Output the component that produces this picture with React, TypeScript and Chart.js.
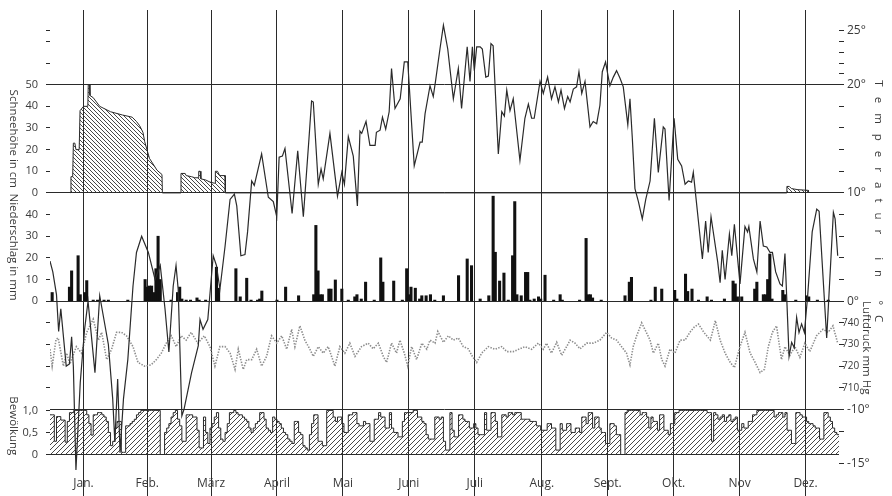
import React, { useEffect, useRef } from 'react';
import { Chart, registerables } from 'chart.js';

Chart.register(...registerables);

// ---------------- data ----------------
const MONTHS = ['Jan.', 'Feb.', 'März', 'April', 'Mai', 'Juni', 'Juli', 'Aug.', 'Sept.', 'Okt.', 'Nov', 'Dez.'];
const MONTH_START = [0, 31, 59, 90, 120, 151, 181, 212, 243, 273, 304, 334, 365];

const TEMP_TICKS = [25, 24, 23, 22, 21, 20, 18, 16, 14, 12, 10, 8, 6, 4, 2, 0, -2, -4, -6, -8, -10, -12, -15];
const TEMP_LABELS = [25, 20, 10, 0, -10, -15];
const TEMP_GRID = [20, 10, 0, -10];
const SNOW_TICKS = [0, 10, 20, 30, 40, 50, 60, 70, 75];
const SNOW_LABELS = [0, 10, 20, 30, 40, 50];
const PRECIP_TICKS = [0, 10, 20, 30, 40];
const PRESSURE_TICKS = [710, 720, 730, 740];
const CLOUD_TICKS = [0, 0.5, 1];
const CLOUD_TEXT = ['0', '0,5', '1,0'];

// axis ranges (all share the same vertical extent)
const T_RANGE = [-18, 26.9];
const SNOW_RANGE = [-140, 84.5];
const PRECIP_RANGE = [-90, 134.5];
const PRESSURE_RANGE = [660, 884.5];
const CLOUD_RANGE = [-0.941, 10.08];

// daily mean temperature (day of year, °C)
const TEMPERATURE: [number, number][] = [
  [0, 3.7], [1.3, 2.7], [3, 0.6], [4, -2.8], [5, -0.7], [7.5, -6], [9, -5.8], [10, -3.3], [10.8, -6],
  [12, -15.6], [14, -7.5], [16, -2.6], [17.6, 0], [20.8, -6.6], [23, 0.5], [27, -4], [29, -9], [30, -13],
  [31.3, -7.2], [32.4, -14], [34, -9], [36, -5.4], [38.4, 1.4], [40, 4.5], [42.4, 6.0], [45.5, 4.5],
  [48.6, 2], [51, 3.3], [53.2, -0.7], [55, -4.7], [57, 1.4], [58.3, 3.3], [59.3, 1.1], [61, -10.6],
  [62, -10], [65.5, -6.6], [68.6, -4.1], [69.4, -1.7], [70.8, -2.6], [73, -1.7], [75.5, 4.2], [77, 3.3],
  [78.6, 1.1], [81, 5.1], [83.3, 9.4], [85.3, 9.9], [86.4, 8.8], [88.3, 4.2], [90.2, 4.3], [91.4, 6.4],
  [93.3, 11.1], [94.5, 10.7], [97.9, 13.6], [101, 9.6], [103.3, 9.2], [104.9, 7.8], [106, 13.3],
  [107.5, 13.4], [108.7, 14.1], [112, 8.1], [114.6, 13.9], [117.2, 7.8], [119.8, 15.0], [121, 18.5],
  [121.8, 18.4], [124.1, 10.8], [125.4, 12.2], [126.4, 11.3], [129.5, 15.5], [133, 9.7], [135, 11.9],
  [136.2, 10.8], [138, 15.2], [140.3, 13.4], [142.2, 8.8], [143.4, 15.7], [144.2, 15.5], [146.2, 16.6],
  [148, 14.4], [150.4, 14.4], [151, 15.6], [152.7, 15.8], [153.8, 17], [155.3, 15.9], [156.9, 17.5],
  [158, 21.5], [159.6, 17.8], [162, 18.7], [163.9, 22.1], [165.5, 22.1], [168.5, 12.5], [171.2, 14.7],
  [172.2, 14.7], [173.5, 17.3], [175.8, 19.9], [177.3, 18.9], [178.4, 20.4], [180.4, 23.3], [182, 25.5],
  [184, 23.3], [186.6, 18.7], [188.9, 21.5], [190.4, 17.8], [193, 23.5], [194.3, 20.3], [195.4, 23.5],
  [196.3, 21.3], [197.4, 23.5], [199, 23.5], [200, 23.3], [201.6, 20.7], [202.8, 20.8], [204, 23.8],
  [205, 23.6], [207.4, 13.6], [209, 17.5], [210.2, 17.1], [211.3, 19.5], [212.8, 17.6], [214.3, 18.7],
  [217.4, 13], [219.7, 16.9], [221.3, 18.2], [222.8, 16.9], [224, 16.9], [226.7, 20.3], [228.2, 19.2],
  [230.2, 20.7], [232, 18.7], [233.6, 19.8], [235.2, 18.4], [236.4, 19.5], [238, 17.8], [239.5, 18.9],
  [240.6, 18.4], [242.1, 19.6], [243.6, 19.8], [244.7, 21.2], [246, 19.2], [247.5, 20.3], [249.8, 16.1],
  [251.3, 16.6], [252.9, 16.4], [254.4, 18.1], [255.5, 21.2], [257, 22.1], [259, 19.9], [260.6, 20.7],
  [262.1, 21.3], [263.7, 20.6], [265.2, 19.8], [267.3, 16.3], [268.3, 18.7], [269.4, 15], [270.6, 10.4],
  [272.2, 9.2], [274, 7.6], [275.6, 9.4], [277.6, 11.1], [279.6, 16.9], [281.4, 11.9], [283.7, 16.1],
  [284.5, 15.9], [286.4, 9.3], [288.7, 16.9], [290.4, 13.1], [292.2, 12.5], [293.8, 10.8], [295.3, 11.1],
  [296.8, 11.0], [297.6, 11.9], [301.8, 3.9], [303.3, 7.4], [304.5, 4.5], [305.8, 7.8], [308.9, 3.6],
  [310, 1.7], [311, 4.7], [312.3, 2], [314.3, 6.2], [315.4, 4.2], [316.6, 7.1], [319.2, 1.6], [321.5, 6.9],
  [322.7, 6.4], [323.3, 6.9], [325.4, 3.9], [327, 2.7], [328.5, 7.4], [330, 5.1], [331.6, 5], [333.1, 4.5],
  [334.2, 4.5], [335.7, 2.7], [337.7, 1.6], [338.8, 1.4], [340, 4.4], [341.9, -5.1], [343.1, -3.8],
  [344.3, -4.3], [345.4, -1.5], [346.5, -2.9], [347.7, -2.1], [349, -2.9], [350.5, 0.5], [352.6, 6.4],
  [354.7, 8.5], [355.8, 8.3], [359.3, -3.4], [362.4, 8.2], [363.2, 7.6], [364.4, 4.2],
];

// snow depth (day, cm)
const SNOW: [number, number][] = [
  [9.6, 0], [9.7, 7.5], [10.5, 7.5], [10.8, 23], [11.5, 23], [12, 20], [13.5, 20], [13.9, 38], [15.5, 40],
  [17.5, 40], [17.7, 50], [18.2, 50], [18.5, 45], [20, 44], [23, 40], [28, 37.5], [33.5, 36], [38, 35],
  [40, 33], [41.5, 31], [43, 28], [43.8, 23.7], [46, 16], [49.5, 10.5], [51.8, 8.5], [52, 0],
  [60.5, 0], [60.6, 9], [62.5, 9], [63, 8], [65.5, 7.5], [67, 7], [68.7, 7], [68.8, 10], [69.5, 10],
  [69.8, 6.5], [72, 6], [74, 5], [76, 4.5], [76.4, 4.5], [76.5, 10], [77.5, 10], [78.5, 8], [81, 8], [81.1, 0],
  [340.8, 0], [340.9, 3], [342, 3], [343, 2], [346, 1.5], [350.8, 1.2], [350.9, 0],
];

// precipitation (day, mm)
const PRECIP: [number, number][] = [
  [1, 4], [9, 6.5], [10, 14], [13, 21], [14, 3], [16, 4], [17, 9.5], [20, 0.5], [22, 0.5], [25, 0.5],
  [27, 0.5], [36, 0.5], [44, 10], [45, 6.5], [46, 7], [47, 7], [48, 4], [49, 15], [50, 30], [51, 10],
  [56, 0.5], [59, 4], [60, 6.5], [61, 1], [63, 0.5], [65, 0.5], [68, 1.5], [69, 0.5], [72, 0.5], [77, 15.7],
  [78, 6], [86, 15], [88, 2], [91, 10.6], [93, 0.5], [96, 0.5], [97, 1], [98, 4.7], [105, 0.5], [109, 6.5],
  [115, 2.5], [122, 3], [123, 35], [124, 14], [125, 3], [126, 3], [129, 5.6], [130, 5.6], [132, 9.8],
  [135, 5.6], [138, 0.5], [141, 2], [142, 3], [144, 1], [146, 8.8], [150, 0.5], [153, 20], [154, 8.8],
  [159, 9.3], [163, 0.5], [165, 15], [166, 3], [167, 6.5], [169, 6], [171, 1], [172, 2.5], [174, 2.5],
  [176, 3], [178, 0.5], [182, 2.5], [189, 11.8], [193, 19.5], [195, 16.4], [199, 1], [203, 2.5],
  [205, 48.5], [206, 22.6], [208, 9.3], [210, 13], [212, 0.5], [214, 21], [215, 46], [216, 3], [218, 2.5],
  [220, 13.3], [221, 13.3], [222, 0.5], [224, 1], [226, 2], [227, 1], [229, 12], [233, 0.5], [236, 3],
  [237, 0.5], [245, 0.5], [248, 29], [249, 3], [250, 3], [251, 1.5], [255, 0.5], [266, 2.5], [268, 8.8],
  [269, 11], [278, 0.5], [280, 6.5], [283, 5.6], [289, 5], [290, 1], [294, 12.5], [295, 4.5], [297, 5.6],
  [300, 0.5], [304, 2], [306, 0.5], [312, 1], [316, 9.3], [317, 8], [318, 2], [320, 2], [326, 5.6],
  [327, 8.8], [330, 3], [331, 3], [332, 10], [333, 21.8], [334, 1], [339, 5], [340, 3], [345, 0.5],
  [350, 2.5], [351, 2], [355, 0.5], [360, 0.5],
];

// air pressure (day, mm Hg)
const PRESSURE: [number, number][] = [
  [0, 727.8], [1, 720], [2.8, 732.4], [3.8, 733], [6.2, 720], [7.7, 726], [9.2, 721], [12.2, 729],
  [14.6, 726], [17, 735.6], [20, 741.7], [22.4, 732], [23.9, 735.6], [26.2, 723], [28.5, 727.8],
  [30.8, 735.6], [33.1, 735.6], [35.4, 734], [38.4, 729], [40.7, 721.7], [43.8, 720], [46.8, 720.6],
  [49.2, 723], [51.5, 726], [53.8, 730.6], [56.1, 734], [58.4, 729], [60.7, 734], [63, 732], [65.3, 735.6],
  [68.4, 730.6], [71.4, 734], [74, 729], [76.3, 720], [78.6, 729], [81, 729], [83.3, 726], [85.6, 718.5],
  [87.1, 727.8], [89.4, 718.5], [91, 723], [93.3, 723], [95.6, 727.8], [97.9, 720], [100.2, 724.5],
  [102.5, 734], [104.9, 730.6], [107.2, 734], [109.5, 727.8], [111.8, 737], [113.3, 729], [115.6, 738.6],
  [117.9, 732], [120.2, 727.8], [121.8, 724.5], [124.1, 729], [126.4, 726], [128.7, 729], [131.8, 720],
  [134.1, 729], [136.4, 726], [138.7, 730.6], [141.1, 724.5], [144.1, 729], [147.2, 730.6], [149.5, 728],
  [151.9, 730.6], [154.2, 724.5], [155.7, 721.7], [158, 730.6], [160.3, 726], [161.9, 732], [163.9, 726],
  [165.5, 720], [167.3, 729], [169.6, 723], [172, 730.6], [174.3, 727.8], [175.8, 732], [178.1, 730.6],
  [179.4, 736], [182, 731], [184.3, 734], [186.6, 732], [188.9, 733], [191.2, 729], [193.5, 728],
  [195.4, 724.5], [197.4, 721.7], [199.7, 726], [202.8, 729], [205.9, 727.8], [209, 729], [211.3, 726.7],
  [214.3, 726.7], [217.4, 728], [219.7, 729], [222.8, 727.8], [225.9, 730.6], [228.2, 727.8],
  [229.7, 730.6], [232, 726], [234.4, 731], [236.7, 725], [239, 729], [240.6, 732], [242.9, 730.6],
  [245.2, 728], [248.3, 730.6], [251.3, 730.6], [254.4, 732], [257.5, 735.6], [259.8, 733], [262.1, 732],
  [264.4, 729], [266.7, 726], [268.3, 720.6], [269.8, 729], [271.4, 734], [273.7, 740], [275.2, 737],
  [277.6, 732], [279.1, 726], [281.4, 730.6], [283, 723], [284.5, 720], [286.8, 727.8], [289.1, 726],
  [291.5, 732], [293.8, 732], [296, 735.6], [298, 738], [300, 739.4], [302.5, 735.6], [305.5, 732],
  [307.8, 741], [310, 732], [312.3, 726], [314.7, 721.7], [316.6, 719.3], [319.2, 729], [321.5, 735.6],
  [323.9, 726], [326.2, 721.7], [328.5, 717], [330.5, 718.5], [332.3, 729], [334.2, 735.6], [336.1, 738.6],
  [338.4, 723], [340, 729], [342.3, 725], [344.6, 729], [346.9, 724], [349.2, 730.6], [351.5, 726.7],
  [354.6, 734], [357.6, 737], [360, 735.6], [362.2, 738.6], [364.4, 730.6],
];

// daily cloud cover (0..1), Jan 1 .. Dec 31
const CLOUD: number[] = [
  0.9, 0.9, 0.3, 0.86, 0.86, 0.78, 0.78, 0.28, 0.75, 0.95, 0.95, 1, 1, 1, 1, 1, 1, 0.9, 0.7, 0.44, 0.9, 0.9, 0.95, 0.95, 0.9, 0.85, 0.75, 0.5, 0.2, 0.3, 0.6,
  0.75, 0.75, 0.05, 0.05, 0.65, 0.65, 0.7, 0.75, 0.8, 0.9, 0.95, 1, 1, 1, 1, 1, 1, 1, 1, 1, 0, 0, 0.5, 0.6, 0.7, 0.85, 0.95, 1,
  0.8, 0.65, 0.3, 0.3, 0.9, 0.9, 0.9, 0.85, 0.85, 0.55, 0.15, 0.15, 0.85, 0.5, 0.25, 0.6, 0.7, 0.85, 0.95, 0.6, 0.35, 0.3, 0.5, 0.7, 0.95, 0.95, 1, 0.95, 0.9, 0.9, 0.85,
  0.8, 0.75, 0.6, 0.5, 0.6, 0.7, 0.75, 0.95, 0.95, 0.8, 0.6, 0.55, 0.5, 0.85, 0.8, 0.75, 0.7, 0.6, 0.5, 0.45, 0.35, 0.3, 0.25, 0.75, 0.75, 0.5, 0.45, 0.2, 0.15, 0.1,
  0.45, 0.7, 0.9, 0.9, 0.3, 0.3, 0.2, 0.2, 1, 1, 1, 0.85, 0.75, 0.85, 0.85, 0.7, 0.5, 0.5, 0.9, 0.9, 0.95, 0.95, 0.7, 0.65, 0.65, 0.75, 0.7, 0.7, 0.3, 0.3, 0.8,
  0.8, 0.95, 0.85, 0.85, 0.6, 0.6, 0.95, 0.6, 0.5, 0.5, 0.4, 0.4, 0.75, 0.95, 0.95, 0.95, 0.95, 1, 1, 0.85, 0.85, 0.75, 0.7, 0.45, 0.35, 0.35, 0.35, 0.85, 0.85, 0.8,
  0.85, 0.3, 0.1, 0.1, 0.95, 0.55, 0.4, 0.4, 0.9, 0.9, 0.8, 0.75, 0.75, 0.6, 0.6, 0.7, 0.6, 0.45, 0.45, 0.45, 0.95, 0.55, 0.55, 0.95, 0.95, 0.75, 0.4, 0.4, 0.9, 0.9, 0.85,
  0.95, 0.95, 0.9, 0.95, 0.95, 0.95, 0.8, 0.8, 0.8, 0.8, 0.75, 0.75, 0.75, 0.65, 0.65, 0.55, 0.55, 0.55, 0.7, 0.7, 0.6, 0.6, 0.1, 0.1, 0.7, 0.55, 0.55, 0.7, 0.7, 0.5, 0.5,
  0.6, 0.6, 0.5, 0.85, 0.85, 0.7, 0.95, 0.95, 0.6, 0.85, 0.85, 0.6, 0.5, 0.5, 0.25, 0.25, 0.7, 0.7, 0.65, 0.45, 0.45, 0, 0, 0.95, 1, 1, 1, 1, 1, 1,
  0.9, 0.95, 0.95, 0.85, 0.6, 0.85, 0.75, 0.75, 0.55, 0.9, 0.9, 0.55, 0.55, 0.45, 0.7, 0.7, 0.95, 0.95, 1, 1, 1, 1, 1, 1, 1, 1, 1, 1, 1, 1, 1,
  0.95, 0.95, 0.3, 0.95, 0.9, 0.8, 0.85, 0.9, 0.75, 0.85, 0.9, 0.75, 0.8, 0.85, 0.55, 0.55, 0.7, 0.6, 0.6, 0.75, 0.75, 0.9, 0.9, 1, 1, 1, 1, 1, 1, 1,
  1, 0.85, 0.9, 0.95, 0.95, 0.85, 0.95, 0.55, 0.55, 0.25, 0.25, 0.95, 0.95, 0.9, 0.85, 0.85, 0.75, 0.7, 0.7, 0.65, 0.6, 0.6, 0.35, 0.35, 0.95, 0.95, 0.85, 0.75, 0.6, 0.5, 0.45,
];

// ---------------- styling ----------------
const INK = '#2a2a2a';
const TEXT = '#3a3a3a';
const FONT = '"Open Sans", "DejaVu Sans", sans-serif';
const LEFT_AXES = ['yS', 'yR', 'yPL', 'yC'];
const RIGHT_AXES = ['yT', 'yP'];

function makeHatch(ctx: CanvasRenderingContext2D, forward: boolean, s: number): CanvasPattern | string {
  const c = document.createElement('canvas');
  c.width = s;
  c.height = s;
  const g = c.getContext('2d');
  if (!g) return 'rgba(0,0,0,0.2)';
  g.strokeStyle = '#333';
  g.lineWidth = 0.9;
  g.beginPath();
  if (forward) {
    g.moveTo(0, s); g.lineTo(s, 0);
    g.moveTo(-1, 1); g.lineTo(1, -1);
    g.moveTo(s - 1, s + 1); g.lineTo(s + 1, s - 1);
  } else {
    g.moveTo(0, 0); g.lineTo(s, s);
    g.moveTo(s - 1, -1); g.lineTo(s + 1, 1);
    g.moveTo(-1, s - 1); g.lineTo(1, s + 1);
  }
  g.stroke();
  return ctx.createPattern(c, 'repeat') || 'rgba(0,0,0,0.2)';
}

const zeroFit = (s: any) => {
  s.width = 0;
  s.paddingTop = 0;
  s.paddingBottom = 0;
  s.paddingLeft = 0;
  s.paddingRight = 0;
};

const setTicks = (vals: number[]) => (s: any) => {
  s.ticks = vals.map((v) => ({ value: v }));
};

// widen the zero-width axis boxes after layout so that their labels are not clipped
const axisBoxPlugin = {
  id: 'axisBoxes',
  afterLayout(chart: any) {
    LEFT_AXES.forEach((id) => {
      const s = chart.scales[id];
      if (s) {
        s.left = 0;
        s.width = s.right;
      }
    });
    RIGHT_AXES.forEach((id) => {
      const s = chart.scales[id];
      if (s) {
        s.right = chart.width;
        s.width = s.right - s.left;
      }
    });
  },
};

const textPlugin = {
  id: 'climateTexts',
  afterDraw(chart: any) {
    const ctx: CanvasRenderingContext2D = chart.ctx;
    const x = chart.scales.x;
    const { yS, yR, yC, yP, yT } = chart.scales;
    ctx.save();
    ctx.fillStyle = TEXT;
    ctx.font = `12px ${FONT}`;
    ctx.textAlign = 'center';
    ctx.textBaseline = 'middle';
    MONTHS.forEach((m, i) => {
      const cx = x.getPixelForValue((MONTH_START[i] + MONTH_START[i + 1]) / 2);
      ctx.fillText(m, cx, 484);
    });

    const rot = (text: string, cx: number, cy: number, align: CanvasTextAlign, spacing = '0px') => {
      ctx.save();
      ctx.translate(cx, cy);
      ctx.rotate(Math.PI / 2);
      ctx.font = `11.5px ${FONT}`;
      (ctx as any).letterSpacing = spacing;
      ctx.textAlign = align;
      ctx.textBaseline = 'middle';
      ctx.fillText(text, 0, 0);
      ctx.restore();
    };
    rot('Schneehöhe in cm', 13, (yS.getPixelForValue(0) + yS.getPixelForValue(50)) / 2, 'center');
    rot('Niederschlag in mm', 13, (yR.getPixelForValue(0) + yS.getPixelForValue(0)) / 2, 'center');
    rot('Bewölkung', 13, yC.getPixelForValue(0.65), 'center');
    rot('Luftdruck mm Hg', 866, yP.getPixelForValue(728.5), 'center');
    rot('Temperatur in °C', 878, yT.getPixelForValue(20.4), 'left', '10px');
    ctx.restore();
  },
};

export default function App() {
  const ref = useRef<HTMLCanvasElement | null>(null);

  useEffect(() => {
    const canvas = ref.current;
    if (!canvas) return;
    const ctx = canvas.getContext('2d');
    if (!ctx) return;

    const snowHatch = makeHatch(ctx, false, 4);
    const cloudHatch = makeHatch(ctx, true, 5);

    const tickFont = { family: FONT, size: 11 };

    const chart = new Chart(ctx, {
      type: 'line',
      data: {
        datasets: [
          {
            type: 'line',
            label: 'Temperatur',
            data: TEMPERATURE.map(([d, t]) => ({ x: d, y: t })),
            yAxisID: 'yT',
            borderColor: INK,
            borderWidth: 1.2,
            pointRadius: 0,
            tension: 0,
            fill: false,
            order: 0,
          },
          {
            type: 'bar',
            label: 'Niederschlag',
            data: PRECIP.map(([d, v]) => ({ x: d, y: v })),
            yAxisID: 'yR',
            backgroundColor: '#111',
            borderWidth: 0,
            barThickness: 2.4,
            order: 1,
          } as any,
          {
            type: 'line',
            label: 'Luftdruck',
            data: PRESSURE.map(([d, p]) => ({ x: d, y: p })),
            yAxisID: 'yP',
            borderColor: '#8c8c8c',
            borderWidth: 1.6,
            borderDash: [1.4, 1.4],
            pointRadius: 0,
            tension: 0,
            fill: false,
            order: 2,
          },
          {
            type: 'line',
            label: 'Schneehöhe',
            data: SNOW.map(([d, v]) => ({ x: d, y: v })),
            yAxisID: 'yS',
            borderColor: INK,
            borderWidth: 1,
            backgroundColor: snowHatch as any,
            pointRadius: 0,
            tension: 0,
            fill: 'origin',
            order: 3,
          },
          {
            type: 'line',
            label: 'Bewölkung',
            data: CLOUD.map((v, i) => ({ x: i, y: v })).concat([{ x: 365, y: CLOUD[CLOUD.length - 1] }]),
            yAxisID: 'yC',
            borderColor: INK,
            borderWidth: 1,
            backgroundColor: cloudHatch as any,
            pointRadius: 0,
            stepped: 'before',
            fill: 'origin',
            order: 4,
          },
        ],
      },
      options: {
        responsive: false,
        animation: false,
        devicePixelRatio: 1,
        layout: { padding: { left: 50, right: 53, top: 10, bottom: 0 } },
        plugins: { legend: { display: false }, tooltip: { enabled: false } },
        scales: {
          x: {
            type: 'linear',
            min: 0,
            max: 365,
            offset: false,
            afterBuildTicks: setTicks(MONTH_START),
            afterFit: (s: any) => {
              s.height = 0;
              s.paddingLeft = 0;
              s.paddingRight = 0;
            },
            ticks: { display: false },
            grid: { color: INK, lineWidth: 1, drawTicks: false },
            border: { display: false },
          },
          yT: {
            type: 'linear',
            position: 'right',
            min: T_RANGE[0],
            max: T_RANGE[1],
            afterBuildTicks: setTicks(TEMP_TICKS),
            afterFit: zeroFit,
            ticks: {
              autoSkip: false,
              padding: 3,
              color: TEXT,
              font: { family: FONT, size: 12 },
              callback: (v: any) => (TEMP_LABELS.includes(Number(v)) ? `${v}°` : ''),
            },
            grid: {
              drawOnChartArea: true,
              color: (c: any) => (c.tick && TEMP_GRID.includes(c.tick.value) ? INK : 'rgba(0,0,0,0)'),
              tickColor: INK,
              tickLength: 5,
              lineWidth: 1,
            },
            border: { display: false },
          },
          yP: {
            type: 'linear',
            position: 'right',
            min: PRESSURE_RANGE[0],
            max: PRESSURE_RANGE[1],
            afterBuildTicks: setTicks(PRESSURE_TICKS),
            afterFit: zeroFit,
            ticks: { autoSkip: false, padding: 3, color: TEXT, font: { family: FONT, size: 10 } },
            grid: { display: false, drawTicks: false },
            border: { display: false },
          },
          yS: {
            type: 'linear',
            position: 'left',
            min: SNOW_RANGE[0],
            max: SNOW_RANGE[1],
            afterBuildTicks: setTicks(SNOW_TICKS),
            afterFit: zeroFit,
            ticks: {
              autoSkip: false,
              padding: 8,
              color: TEXT,
              font: tickFont,
              callback: (v: any) => (SNOW_LABELS.includes(Number(v)) ? String(v) : ''),
            },
            grid: { drawOnChartArea: false, tickColor: INK, tickLength: 4 },
            border: { display: false },
          },
          yR: {
            type: 'linear',
            position: 'left',
            min: PRECIP_RANGE[0],
            max: PRECIP_RANGE[1],
            afterBuildTicks: setTicks(PRECIP_TICKS),
            afterFit: zeroFit,
            ticks: { autoSkip: false, padding: 8, color: TEXT, font: tickFont },
            grid: { drawOnChartArea: false, tickColor: INK, tickLength: 4 },
            border: { display: false },
          },
          yPL: {
            type: 'linear',
            position: 'left',
            min: PRESSURE_RANGE[0],
            max: PRESSURE_RANGE[1],
            afterBuildTicks: setTicks(PRESSURE_TICKS),
            afterFit: zeroFit,
            ticks: { autoSkip: false, padding: 8, callback: () => '' },
            grid: { drawOnChartArea: false, tickColor: INK, tickLength: 4 },
            border: { display: false },
          },
          yC: {
            type: 'linear',
            position: 'left',
            min: CLOUD_RANGE[0],
            max: CLOUD_RANGE[1],
            afterBuildTicks: setTicks(CLOUD_TICKS),
            afterFit: zeroFit,
            ticks: {
              autoSkip: false,
              padding: 8,
              color: TEXT,
              font: tickFont,
              callback: (v: any) => CLOUD_TEXT[CLOUD_TICKS.indexOf(Number(v))] ?? '',
            },
            grid: {
              drawOnChartArea: true,
              color: (c: any) => (c.tick && c.tick.value === 0 ? INK : 'rgba(0,0,0,0)'),
              tickColor: INK,
              tickLength: 4,
            },
            border: { display: false },
          },
        },
      } as any,
      plugins: [axisBoxPlugin, textPlugin],
    });

    return () => chart.destroy();
  }, []);

  return (
    <canvas
      ref={ref}
      width={892}
      height={496}
      style={{ position: 'absolute', left: 0, top: 0, width: 892, height: 496, display: 'block', background: '#fff' }}
    />
  );
}
